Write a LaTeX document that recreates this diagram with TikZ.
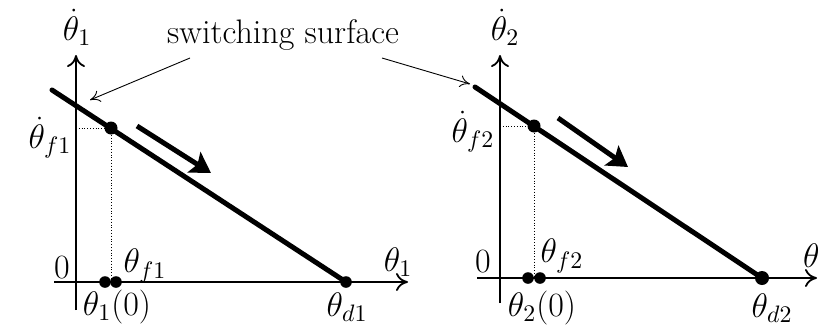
\documentclass[tikz,border=0pt]{standalone}
\usepackage{fix-cm}
\usepackage{amsmath,amssymb}
\usetikzlibrary{arrows.meta}
\begin{document}
\begin{tikzpicture}[x=0.5pt, y=-0.5pt, font=\fontsize{17}{20}\selectfont,
  ax/.style={-{To[length=6pt, width=9pt]}, line width=0.9pt},
  surf/.style={line width=2.5pt, line cap=round},
  bigdot/.style={circle, fill, inner sep=0pt, minimum size=6.5pt},
  axdot/.style={circle, fill, inner sep=0pt, minimum size=5.8pt},
  guide/.style={densely dotted, line width=0.4pt},
  move/.style={-{Stealth[length=10pt, width=12pt, inset=2pt]}, line width=2.5pt},
  ptr/.style={-{To[length=5pt, width=6pt]}, line width=0.45pt}]
\useasboundingbox (0,0) rectangle (818,327);
% left plane
\coordinate (y1b) at (76,310); \coordinate (y1t) at (76,55);
\coordinate (x1l) at (54,282); \coordinate (x1r) at (408,282);
\draw[ax] (y1b) -- (y1t); \draw[ax] (x1l) -- (x1r);
\coordinate (s1) at (52,90); \node[axdot] (d1) at (346,282) {};
\draw[surf] (s1) -- (d1.center);
\node[bigdot] (f1) at (111,128) {};
\coordinate (f1y) at (76,128); \coordinate (f1x) at (111,282);
\draw[guide] (f1y) -- (f1); \draw[guide] (f1) -- (f1x);
\node[axdot] (a1) at (105,282) {}; \node[axdot] (b1) at (116,282) {};
\coordinate (m1a) at (137,126); \coordinate (m1b) at (211,173);
\draw[move] (m1a) -- (m1b);
\node (ly1) at (77,27) {$\dot\theta_1$};
\node (lf1) at (50,138) {$\dot\theta_{f1}$};
\node (lz1) at (62,268) {$0$};
\node (lt1) at (145,266) {$\theta_{f1}$};
\node (li1) at (117,307) {$\theta_1(0)$};
\node (ld1) at (347,307) {$\theta_{d1}$};
\node (lx1) at (398,262) {$\theta_1$};
% switching surface label
\node (sw) at (283,35) {switching surface};
\coordinate (p1a) at (190,58); \coordinate (p1b) at (90,100);
\coordinate (p2a) at (382,58); \coordinate (p2b) at (470,84);
\draw[ptr] (p1a) -- (p1b); \draw[ptr] (p2a) -- (p2b);
% right plane
\coordinate (y2b) at (500,303); \coordinate (y2t) at (500,55);
\coordinate (x2l) at (477,278); \coordinate (x2r) at (817,278);
\draw[ax] (y2b) -- (y2t); \draw[ax] (x2l) -- (x2r);
\coordinate (s2) at (475,87); \node[axdot, minimum size=7pt] (d2) at (762,278) {};
\draw[surf] (s2) -- (d2.center);
\node[bigdot] (f2) at (534,126) {};
\coordinate (f2y) at (500,126); \coordinate (f2x) at (534,278);
\draw[guide] (f2y) -- (f2); \draw[guide] (f2) -- (f2x);
\node[axdot] (a2) at (528,278) {}; \node[axdot] (b2) at (540,278) {};
\coordinate (m2a) at (558,118); \coordinate (m2b) at (628,167);
\draw[move] (m2a) -- (m2b);
\node (ly2) at (505,27) {$\dot\theta_2$};
\node (lf2) at (473,132) {$\dot\theta_{f2}$};
\node (lz2) at (483,262) {$0$};
\node (lt2) at (562,256) {$\theta_{f2}$};
\node (li2) at (542,308) {$\theta_2(0)$};
\node (ld2) at (772,308) {$\theta_{d2}$};
\node[anchor=west] (lx2) at (796,258) {$\theta_2$};
\end{tikzpicture}
\end{document}
